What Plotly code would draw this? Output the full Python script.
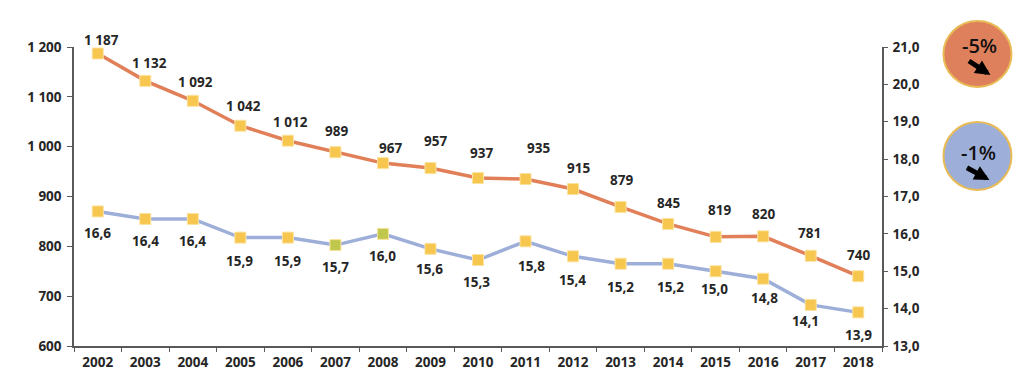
import plotly.graph_objects as go

years = [str(y) for y in range(2002, 2019)]
orange_values = [1187, 1132, 1092, 1042, 1012, 989, 967, 957, 937, 935, 915, 879, 845, 819, 820, 781, 740]
blue_values = [16.6, 16.4, 16.4, 15.9, 15.9, 15.7, 16.0, 15.6, 15.3, 15.8, 15.4, 15.2, 15.2, 15.0, 14.8, 14.1, 13.9]
left_ticks = [600, 700, 800, 900, 1000, 1100, 1200]
left_tick_text = ["600", "700", "800", "900", "1 000", "1 100", "1 200"]
right_ticks = [13, 14, 15, 16, 17, 18, 19, 20, 21]
right_tick_text = ["13,0", "14,0", "15,0", "16,0", "17,0", "18,0", "19,0", "20,0", "21,0"]
blue_marker_colors = ["#F6C64E"] * 5 + ["#BFC84C", "#BFC84C"] + ["#F6C64E"] * 10

# label nudges (pixels)
orange_dx = [4, 4, 3, 3, 3, 1, 8, 5, 3, 13, 5, 1, 0, 4, 0, -1, 0]
orange_dy = [13, 18, 19, 20, 19, 21, 15, 27, 25, 31, 21, 27, 21, 27, 22, 23, 21]
blue_dx = [0, 0, 0, -1, 0, 0, 0, -1, -2, 6, -1, 0, 2, -1, 1, -5, 0]
blue_dy = [-22, -22, -22, -23, -23, -22, -22, -20, -22, -25, -24, -23, -23, -18, -19, -16, -23]

FONT = "Open Sans"
WEIGHT = 700
TXT = "#262626"
AX = "#595959"
PAGE = 8  # browser body margin
W, H = 1024 - PAGE, 388 - PAGE
L, R, T, B = 74 - PAGE, 142.4, 47 - PAGE, 42
PW, PH = W - L - R, H - T - B
LABEL_FONT = dict(family=FONT, size=13.5, color=TXT, weight=WEIGHT)


def px(x):
    return (x - PAGE - L) / PW


def py(y):
    return 1 - (y - PAGE - T) / PH


def fmt_int(v):
    return f"{v:,}".replace(",", " ")


fig = go.Figure()
fig.add_trace(go.Scatter(
    x=years, y=orange_values, mode="lines+markers", yaxis="y",
    line=dict(color="#E07F58", width=3.5),
    marker=dict(symbol="square", size=11, color="#F6C64E", line=dict(color="#FBE29E", width=1)),
    showlegend=False, hoverinfo="skip", cliponaxis=False,
))
fig.add_trace(go.Scatter(
    x=years, y=blue_values, mode="lines+markers", yaxis="y2",
    line=dict(color="#9DAFD9", width=3.5),
    marker=dict(symbol="square", size=11, color=blue_marker_colors, line=dict(color="#FBE29E", width=1)),
    showlegend=False, hoverinfo="skip", cliponaxis=False,
))

annotations = []
for i, (v, dx, dy) in enumerate(zip(orange_values, orange_dx, orange_dy)):
    annotations.append(dict(x=i, y=v, xref="x", yref="y", text=fmt_int(v), showarrow=False,
                            xshift=dx, yshift=dy, font=LABEL_FONT))
for i, (v, dx, dy) in enumerate(zip(blue_values, blue_dx, blue_dy)):
    annotations.append(dict(x=i, y=v, xref="x", yref="y2", text=f"{v:.1f}".replace(".", ","), showarrow=False,
                            xshift=dx, yshift=dy, font=LABEL_FONT))

shapes = []
badges = [("-5%", "#DF805C", 943, 21, 1011, 87, 979, 45, 967, 60, 990, 75),
          ("-1%", "#9DAFD8", 943, 122, 1011, 190, 978, 152, 965, 167, 989, 180)]
for label, fill, x0, y0, x1, y1, tx, ty, ax, ay, hx, hy in badges:
    shapes.append(dict(type="circle", xref="paper", yref="paper", x0=px(x0), x1=px(x1),
                       y0=py(y1), y1=py(y0), fillcolor=fill, line=dict(color="#E9BB55", width=2), layer="above"))
    annotations.append(dict(x=px(tx), y=py(ty), xref="paper", yref="paper", text=label, showarrow=False,
                            xanchor="center", yanchor="middle",
                            font=dict(family=FONT, size=20, color="#111111", weight=600)))
    annotations.append(dict(x=px(hx), y=py(hy), ax=ax - hx, ay=ay - hy, xref="paper", yref="paper",
                            axref="pixel", ayref="pixel", text="", showarrow=True, arrowhead=2,
                            arrowsize=0.6, arrowwidth=5, arrowcolor="#000000"))

fig.update_layout(
    width=W, height=H, autosize=False,
    margin=dict(l=L, r=R, t=T, b=B, pad=0),
    paper_bgcolor="white", plot_bgcolor="white",
    font=dict(family=FONT, size=13.5, color=TXT),
    xaxis=dict(type="category", range=[-0.5, 16.5], tickson="boundaries", ticks="outside", ticklen=4,
               tickwidth=1, tickcolor=AX, showline=True, linecolor=AX, linewidth=1.5, showgrid=False,
               ticklabelstandoff=3, tickfont=LABEL_FONT, fixedrange=True),
    yaxis=dict(range=[600, 1200], tickvals=left_ticks, ticktext=left_tick_text, ticks="outside", ticklen=5,
               tickwidth=1, tickcolor=AX, showline=True, linecolor=AX, linewidth=1.5, showgrid=False,
               ticklabelstandoff=3, zeroline=False, tickfont=LABEL_FONT, fixedrange=True),
    yaxis2=dict(range=[13, 21], overlaying="y", side="right", tickvals=right_ticks, ticktext=right_tick_text,
                ticks="outside", ticklen=4, tickwidth=1, tickcolor=AX, showline=True, linecolor=AX,
                linewidth=1.5, showgrid=False, zeroline=False,
                ticklabelstandoff=2, tickfont=LABEL_FONT, fixedrange=True),
    shapes=shapes, annotations=annotations,
)
fig.write_html("out.html", config=dict(displayModeBar=False))
